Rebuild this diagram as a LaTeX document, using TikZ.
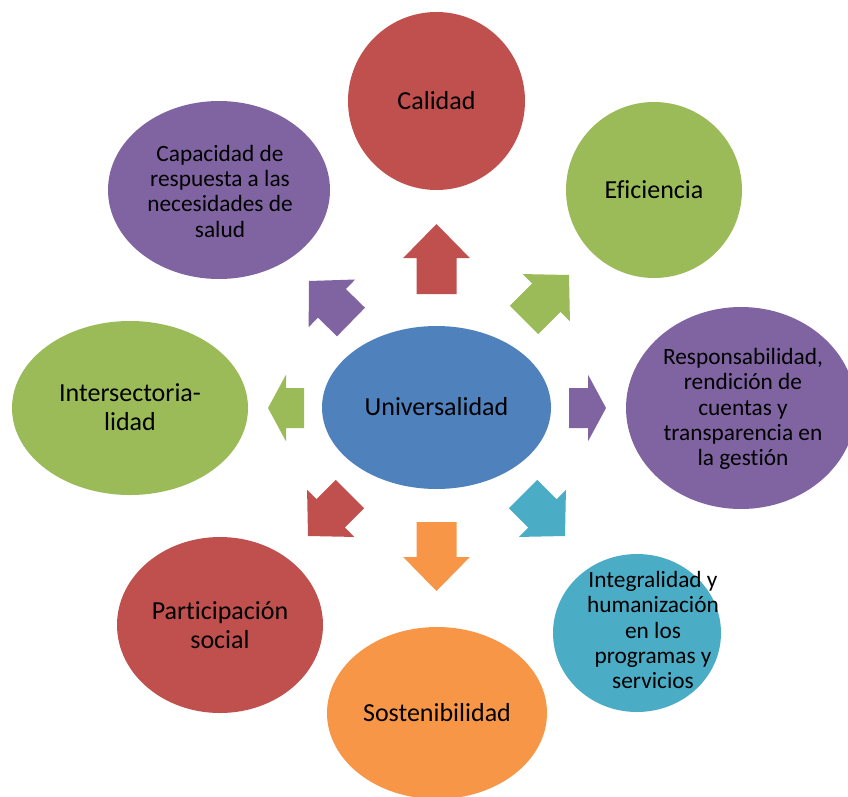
\documentclass[tikz,border=0pt]{standalone}
\usepackage{fontspec}
\setmainfont{Carlito}[Ligatures=NoCommon]
\usetikzlibrary{calc}
\definecolor{cred}{HTML}{C0504D}
\definecolor{cgreen}{HTML}{9BBB59}
\definecolor{cpurple}{HTML}{8064A2}
\definecolor{ccyan}{HTML}{4BACC6}
\definecolor{corange}{HTML}{F79646}
\definecolor{cblue}{HTML}{4F81BD}
\tikzset{
  bigtxt/.style={align=center, font=\fontsize{19.5}{21.4}\selectfont, inner sep=0pt, text=black},
  smalltxt/.style={align=center, font=\fontsize{17.5}{19}\selectfont, inner sep=0pt, text=black},
}
\newcommand{\blockarrow}[4]{%
  \coordinate (hb) at ($(#2)!#3!(#1)$);
  \fill[#4] ($(#1)!15pt!90:(#2)$) -- ($(hb)!15pt!90:(#2)$) -- ($(hb)!25pt!90:(#2)$) -- (#2)
    -- ($(hb)!25pt!-90:(#2)$) -- ($(hb)!15pt!-90:(#2)$) -- ($(#1)!15pt!-90:(#2)$) -- cycle;}
\begin{document}
\begin{tikzpicture}[x=0.75pt,y=-0.75pt]
\path[use as bounding box] (0,0) rectangle (848,796);
\clip (0,0) rectangle (848,796);
% bubbles
\fill[cred] (436.5,101) ellipse [x radius=88.5, y radius=89];
\fill[cgreen] (654,190) ellipse [x radius=88, y radius=88];
\fill[cpurple] (219,190) ellipse [x radius=111, y radius=89];
\fill[cpurple] (741,408) ellipse [x radius=115, y radius=101];
\fill[cgreen] (130,408) ellipse [x radius=118, y radius=87];
\fill[ccyan] (637,633) ellipse [x radius=84, y radius=79];
\fill[cred] (220,625) ellipse [x radius=103, y radius=88];
\fill[corange] (437,713) ellipse [x radius=110, y radius=86];
\fill[cblue] (436.5,407.5) ellipse [x radius=114.5, y radius=81.5];
% texts
\node[bigtxt] (calidad) at (436.5,101) {Calidad};
\node[bigtxt] (eficiencia) at (654,190) {Eficiencia};
\node[smalltxt] (capacidad) at (220,191) {Capacidad de\\respuesta a las\\necesidades de\\salud};
\node[smalltxt] (respons) at (743,409) {Responsabilidad,\\rendición de\\cuentas y\\transparencia en\\la gestión};
\node[smalltxt] (integral) at (653,630) {Integralidad y\\humanización\\en los\\programas y\\servicios};
\node[bigtxt] (intersect) at (130,407) {Intersectoria-\\lidad};
\node[bigtxt] (particip) at (220,625) {Participación\\social};
\node[bigtxt] (sosten) at (437,713) {Sostenibilidad};
\node[bigtxt] (univ) at (436.5,407) {Universalidad};
% arrow end points
\coordinate (nT) at (436.5,294); \coordinate (nH) at (436.5,224);
\coordinate (sT) at (436.5,522); \coordinate (sH) at (436.5,591);
\coordinate (eT) at (569,408);   \coordinate (eH) at (606,408);
\coordinate (wT) at (304,408);   \coordinate (wH) at (268,408);
\coordinate (neT) at (524,320);  \coordinate (neH) at (569,275);
\coordinate (nwT) at (351,322);  \coordinate (nwH) at (309,281);
\coordinate (swT) at (350,494);  \coordinate (swH) at (308,536);
\coordinate (seT) at (523,494);  \coordinate (seH) at (565,536);
\blockarrow{nT}{nH}{25.5pt}{cred}
\blockarrow{sT}{sH}{25.5pt}{corange}
\blockarrow{eT}{eH}{13.5pt}{cpurple}
\blockarrow{wT}{wH}{13.5pt}{cgreen}
\blockarrow{neT}{neH}{24pt}{cgreen}
\blockarrow{nwT}{nwH}{24pt}{cpurple}
\blockarrow{swT}{swH}{24pt}{cred}
\blockarrow{seT}{seH}{24pt}{ccyan}
\end{tikzpicture}
\end{document}
